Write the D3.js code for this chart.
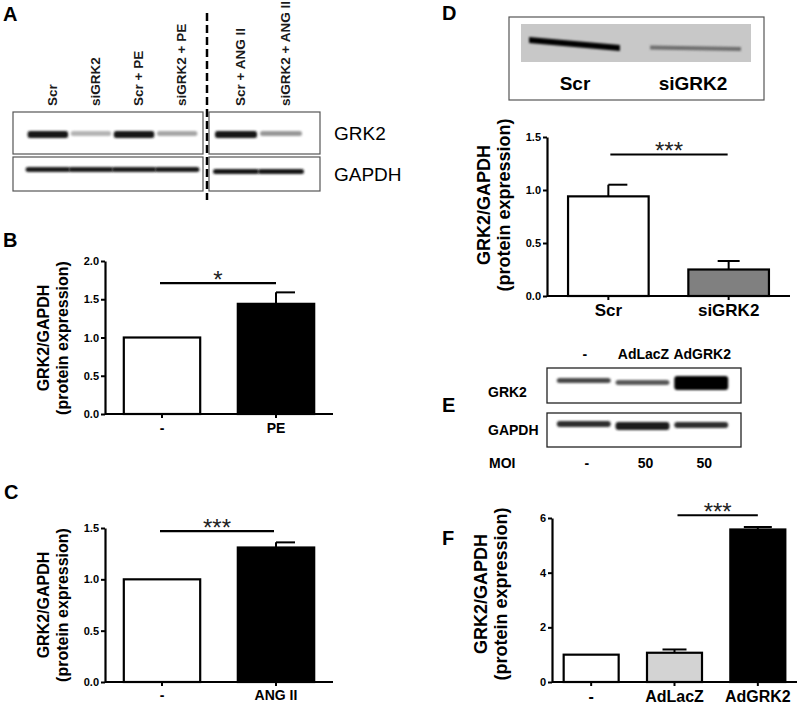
<!DOCTYPE html>
<html>
<head>
<meta charset="utf-8">
<title>GRK2 expression</title>
<script src="https://cdn.jsdelivr.net/npm/d3@7"></script>
<style>
body { margin:0; background:#fff; }
text { font-family:"Liberation Sans", Arial, Helvetica, sans-serif; }
</style>
</head>
<body>
<script>
// blot lanes and band intensities (0 = no signal, 1 = black)
var aLanes = ["Scr", "siGRK2", "Scr + PE", "siGRK2 + PE", "Scr + ANG II", "siGRK2 + ANG II"];
var aGrk2 = [0.92, 0.4, 0.92, 0.45, 0.92, 0.5];
var aGapdh = [0.9, 0.9, 0.9, 0.9, 0.92, 0.92];
var dLanes = ["Scr", "siGRK2"];
var dBand = [0.98, 0.65];
var eLanes = ["-", "AdLacZ", "AdGRK2"];
var eMoi = ["-", "50", "50"];
var eGrk2 = [0.78, 0.72, 1];
var eGapdh = [0.85, 0.9, 0.85];

// quantification
var bCats = ["-", "PE"], bMean = [1.0, 1.44], bSem = [0, 0.15], bTicks = [0, 0.5, 1, 1.5, 2];
var cCats = ["-", "ANG II"], cMean = [1.0, 1.31], cSem = [0, 0.05], cTicks = [0, 0.5, 1, 1.5];
var dCats = ["Scr", "siGRK2"], dMean = [0.94, 0.25], dSem = [0.11, 0.08], dTicks = [0, 0.5, 1, 1.5];
var fCats = ["-", "AdLacZ", "AdGRK2"], fMean = [1.0, 1.07, 5.58], fSem = [0, 0.12, 0.09], fTicks = [0, 2, 4, 6];

var svg = d3.select("body").append("svg").attr("width", 800).attr("height", 704);

var defs = svg.append("defs");
defs.append("filter").attr("id", "blur").attr("x", "-20%").attr("y", "-100%")
	.attr("width", "140%").attr("height", "300%")
	.append("feGaussianBlur").attr("stdDeviation", 1.3);

var bandColor = function(v){ return d3.interpolateGreys(v); };

// panel letters
[["A", 3, 21], ["B", 3, 247], ["C", 4, 499], ["D", 442, 20], ["E", 442, 412], ["F", 442, 545]].forEach(function(l){
	svg.append("text").attr("x", l[1]).attr("y", l[2]).text(l[0])
		.attr("font-size", 20).attr("font-weight", "bold");
});

// ---------- panel A : western blot ----------
var aLeft = d3.scaleBand().domain(aLanes.slice(0, 4)).range([22, 203]).padding(0.2);
var aRight = d3.scaleBand().domain(aLanes.slice(4)).range([209, 308]).padding(0.2);
var aX = function(d){ return aLanes.indexOf(d) < 4 ? aLeft(d) : aRight(d); };
var aW = function(d){ return aLanes.indexOf(d) < 4 ? aLeft.bandwidth() : aRight.bandwidth(); };

svg.selectAll("text.alane").data(aLanes).join("text")
	.attr("class", "alane")
	.attr("transform", function(d){ return "translate(" + (aX(d) + aW(d) / 2 + 4) + ",106) rotate(-90)"; })
	.attr("dy", "0.35em")
	.attr("font-size", 13.5).attr("font-weight", "bold").attr("fill", "#1a1a1a")
	.text(function(d){ return d; });

[[13, 203], [209, 320]].forEach(function(b){
	svg.append("rect").attr("x", b[0]).attr("y", 112).attr("width", b[1] - b[0]).attr("height", 42)
		.attr("fill", "#fff").attr("stroke", "#555").attr("stroke-width", 1.2);
	svg.append("rect").attr("x", b[0]).attr("y", 157).attr("width", b[1] - b[0]).attr("height", 34)
		.attr("fill", "#fff").attr("stroke", "#555").attr("stroke-width", 1.2);
});

svg.selectAll("rect.agrk").data(aLanes).join("rect")
	.attr("x", function(d){ return aX(d) - 3; })
	.attr("width", function(d){ return aW(d) + 6; })
	.attr("y", 131).attr("height", function(d, i){ return aGrk2[i] > 0.6 ? 7 : 5; })
	.attr("rx", 2.5)
	.attr("fill", function(d, i){ return bandColor(aGrk2[i]); })
	.attr("filter", "url(#blur)");
svg.selectAll("rect.agap").data(aLanes).join("rect")
	.attr("x", function(d){ return aX(d) - 5; })
	.attr("width", function(d){ return aW(d) + 10; })
	.attr("y", function(d, i){ return i < 4 ? 167 : 169; }).attr("height", 5)
	.attr("rx", 2.5)
	.attr("fill", function(d, i){ return bandColor(aGapdh[i]); })
	.attr("filter", "url(#blur)");

svg.append("line").attr("x1", 207).attr("x2", 207).attr("y1", 13).attr("y2", 200)
	.attr("stroke", "#000").attr("stroke-width", 2.5).attr("stroke-dasharray", "8,4");

svg.append("text").attr("x", 334).attr("y", 140).text("GRK2").attr("font-size", 19);
svg.append("text").attr("x", 334).attr("y", 181).text("GAPDH").attr("font-size", 19);

// ---------- panel D : blot ----------
svg.append("rect").attr("x", 509).attr("y", 17).attr("width", 255).attr("height", 83)
	.attr("fill", "#fff").attr("stroke", "#555").attr("stroke-width", 1.2);
svg.append("rect").attr("x", 521).attr("y", 24).attr("width", 230).attr("height", 38).attr("fill", "#c8c8c8");
var dLane = d3.scaleBand().domain(dLanes).range([521, 751]).paddingInner(0.2).paddingOuter(0.05);
svg.selectAll("path.dband").data(dLanes).join("path")
	.attr("d", function(d, i){
		var x0 = dLane(d) + 2, x1 = dLane(d) + dLane.bandwidth() - 4;
		var y0 = i === 0 ? 37 : 45.5, y1 = i === 0 ? 45 : 47, h = i === 0 ? 6 : 4;
		return "M" + x0 + "," + y0 + "L" + x1 + "," + y1 + "L" + x1 + "," + (y1 + h) + "L" + x0 + "," + (y0 + h) + "Z";
	})
	.attr("fill", function(d, i){ return bandColor(dBand[i]); })
	.attr("filter", "url(#blur)");
svg.selectAll("text.dlane").data(dLanes).join("text")
	.attr("x", function(d, i){ return i === 0 ? 575 : 693; }).attr("y", 90)
	.attr("text-anchor", "middle").attr("font-size", 19).attr("font-weight", "bold")
	.text(function(d){ return d; });

// ---------- panel E : blot ----------
var eLane = d3.scaleBand().domain(eLanes).range([550, 735]).padding(0.15);
svg.selectAll("text.elane").data(eLanes).join("text")
	.attr("x", function(d){ return eLane(d) + eLane.bandwidth() / 2 + 1; }).attr("y", 359)
	.attr("text-anchor", "middle").attr("font-size", 14).attr("font-weight", "bold")
	.text(function(d){ return d; });
svg.append("rect").attr("x", 547).attr("y", 368).attr("width", 194).attr("height", 35)
	.attr("fill", "#fff").attr("stroke", "#222").attr("stroke-width", 1.3);
svg.append("rect").attr("x", 547).attr("y", 413).attr("width", 194).attr("height", 34)
	.attr("fill", "#fff").attr("stroke", "#222").attr("stroke-width", 1.3);
svg.selectAll("rect.egrk").data(eLanes).join("rect")
	.attr("x", function(d){ return eLane(d) - 2; })
	.attr("width", eLane.bandwidth() + 4)
	.attr("y", function(d, i){ return i === 2 ? 376 : (i === 1 ? 380 : 378); })
	.attr("height", function(d, i){ return i === 2 ? 14 : 5; })
	.attr("rx", 3)
	.attr("fill", function(d, i){ return bandColor(eGrk2[i]); })
	.attr("filter", "url(#blur)");
svg.selectAll("rect.egap").data(eLanes).join("rect")
	.attr("x", function(d){ return eLane(d) - 2; })
	.attr("width", eLane.bandwidth() + 4)
	.attr("y", function(d, i){ return i === 0 ? 421 : 422; })
	.attr("height", function(d, i){ return i === 1 ? 8 : 6; })
	.attr("rx", 3)
	.attr("fill", function(d, i){ return bandColor(eGapdh[i]); })
	.attr("filter", "url(#blur)");
svg.append("text").attr("x", 488).attr("y", 397).text("GRK2").attr("font-size", 14).attr("font-weight", "bold");
svg.append("text").attr("x", 488).attr("y", 435).text("GAPDH").attr("font-size", 14).attr("font-weight", "bold");
svg.append("text").attr("x", 489).attr("y", 468).text("MOI").attr("font-size", 14).attr("font-weight", "bold");
svg.selectAll("text.emoi").data(eMoi).join("text")
	.attr("x", function(d, i){ return eLane(eLanes[i]) + eLane.bandwidth() / 2 + 3; }).attr("y", 468)
	.attr("text-anchor", "middle").attr("font-size", 14).attr("font-weight", "bold")
	.text(function(d){ return d; });

// ---------- bar chart panels ----------
function barPanel(o){
	var g = svg.append("g");
	var x = d3.scaleBand().domain(o.cats).range([o.x0, o.x1]).paddingInner(o.pi).paddingOuter(o.po);
	var y = d3.scaleLinear().domain([0, o.max]).range([o.y0, o.y1]);
	var cx = function(d){ return x(d) + x.bandwidth() / 2; };

	g.selectAll("rect.bar").data(o.cats).join("rect")
		.attr("x", function(d){ return x(d); })
		.attr("width", x.bandwidth())
		.attr("y", function(d, i){ return y(o.mean[i]); })
		.attr("height", function(d, i){ return o.y0 - y(o.mean[i]); })
		.attr("fill", function(d, i){ return o.fill[i]; })
		.attr("stroke", "#000").attr("stroke-width", 2.2);

	var errs = o.cats.filter(function(d, i){ return o.sem[i] > 0; });
	errs.forEach(function(d){
		var i = o.cats.indexOf(d), top = y(o.mean[i] + o.sem[i]);
		g.append("line").attr("x1", cx(d)).attr("x2", cx(d))
			.attr("y1", y(o.mean[i])).attr("y2", top).attr("stroke", "#000").attr("stroke-width", 2);
		g.append("line").attr("x1", cx(d) + o.cap[i][0]).attr("x2", cx(d) + o.cap[i][1])
			.attr("y1", top).attr("y2", top).attr("stroke", "#000").attr("stroke-width", 2);
	});

	// y axis
	var ya = g.append("g").attr("transform", "translate(" + o.x0 + ",0)")
		.call(d3.axisLeft(y).tickValues(o.ticks).tickFormat(o.fmt).tickSize(4).tickSizeOuter(0).tickPadding(2));
	ya.select(".domain").attr("stroke-width", 2.2);
	ya.selectAll(".tick line").attr("stroke-width", 2);
	ya.selectAll("text").attr("font-size", 11).attr("font-weight", "bold").attr("font-family", null);

	// x axis
	var xa = g.append("g").attr("transform", "translate(0," + o.y0 + ")")
		.call(d3.axisBottom(x).tickSize(4).tickSizeOuter(0).tickPadding(o.xpad));
	xa.select(".domain").attr("stroke-width", 2.2).attr("d", "M" + o.x0 + ",0H" + o.x1);
	xa.selectAll(".tick line").attr("stroke-width", 2);
	xa.selectAll("text").attr("font-size", o.xfs).attr("font-weight", "bold").attr("font-family", null);

	// significance
	var s0 = cx(o.cats[o.sig[0]]) + o.sigOff[0], s1 = cx(o.cats[o.sig[1]]) + o.sigOff[1];
	g.append("line").attr("x1", s0).attr("x2", s1).attr("y1", y(o.sigY)).attr("y2", y(o.sigY))
		.attr("stroke", "#000").attr("stroke-width", 2.2);
	g.append("text").attr("x", (s0 + s1) / 2).attr("y", y(o.sigY) + o.starDy)
		.attr("text-anchor", "middle").attr("font-size", 24).attr("letter-spacing", 0)
		.attr("fill", "#222").text(o.stars);

	// y label
	var lab = g.append("text").attr("text-anchor", "middle").attr("font-weight", "bold")
		.attr("font-size", o.lfs)
		.attr("transform", "translate(" + o.lx + "," + o.ly + ") rotate(-90)");
	lab.append("tspan").attr("x", 0).attr("y", 0).attr("dy", "0.35em").text("GRK2/GAPDH");
	lab.append("tspan").attr("x", 0).attr("y", o.lgap).attr("dy", "0.35em").text("(protein expression)");
}

var fmt1 = d3.format(".1f");

barPanel({cats: bCats, mean: bMean, sem: bSem, ticks: bTicks, fmt: fmt1, max: 2,
	x0: 105, x1: 333, y0: 414, y1: 261, pi: 0.33, po: 0.165,
	fill: ["#fff", "#000"], cap: [[0, 0], [0, 19]], xpad: 5, xfs: 14,
	sig: [0, 1], sigOff: [-2, 0], sigY: 1.71, stars: "*", starDy: 5,
	lx: 43, ly: 338, lgap: 19, lfs: 16});

barPanel({cats: cCats, mean: cMean, sem: cSem, ticks: cTicks, fmt: fmt1, max: 1.5,
	x0: 105, x1: 333, y0: 682, y1: 528, pi: 0.33, po: 0.165,
	fill: ["#fff", "#000"], cap: [[0, 0], [0, 19]], xpad: 4, xfs: 14,
	sig: [0, 1], sigOff: [-2, -2], sigY: 1.47, stars: "***", starDy: 5,
	lx: 43, ly: 605, lgap: 19, lfs: 16});

barPanel({cats: dCats, mean: dMean, sem: dSem, ticks: dTicks, fmt: fmt1, max: 1.5,
	x0: 547, x1: 790, y0: 296, y1: 137, pi: 0.33, po: 0.175,
	fill: ["#fff", "#808080"], cap: [[0, 19], [-11, 11]], xpad: 4, xfs: 17,
	sig: [0, 1], sigOff: [2, -1], sigY: 1.335, stars: "***", starDy: 5,
	lx: 484, ly: 205, lgap: 20, lfs: 18});

barPanel({cats: fCats, mean: fMean, sem: fSem, ticks: fTicks, fmt: d3.format("d"), max: 6,
	x0: 552, x1: 797, y0: 682, y1: 518, pi: 0.34, po: 0.14,
	fill: ["#fff", "#d3d3d3", "#000"], cap: [[0, 0], [-12, 12], [-14, 14]], xpad: 5, xfs: 16,
	sig: [1, 2], sigOff: [3, 0], sigY: 6.1, stars: "***", starDy: 5,
	lx: 481, ly: 594, lgap: 20, lfs: 18});
</script>
</body>
</html>
